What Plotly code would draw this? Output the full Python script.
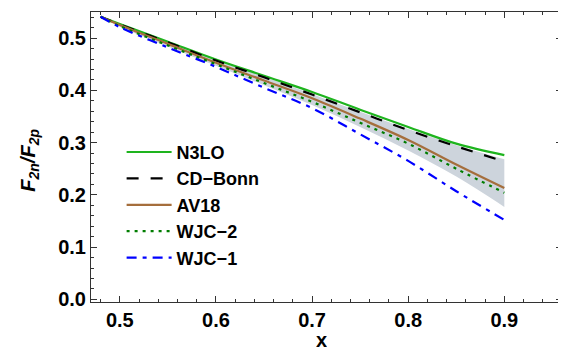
import plotly.graph_objects as go

x_vals = [0.48, 0.50, 0.55, 0.60, 0.65, 0.70, 0.75, 0.80, 0.85, 0.90]
n3lo = [0.541, 0.527, 0.493, 0.459, 0.428, 0.397, 0.363, 0.330, 0.298, 0.276]
cdbonn = [0.541, 0.526, 0.492, 0.457, 0.425, 0.392, 0.358, 0.324, 0.293, 0.264]
av18 = [0.541, 0.525, 0.489, 0.453, 0.419, 0.385, 0.346, 0.305, 0.258, 0.213]
wjc2 = [0.541, 0.523, 0.486, 0.450, 0.414, 0.378, 0.338, 0.298, 0.250, 0.204]
wjc1 = [0.541, 0.521, 0.482, 0.445, 0.405, 0.366, 0.316, 0.265, 0.207, 0.152]
band_upper = [0.541, 0.527, 0.492, 0.458, 0.426, 0.393, 0.359, 0.326, 0.295, 0.268]
band_lower = [0.541, 0.522, 0.484, 0.447, 0.410, 0.372, 0.330, 0.285, 0.235, 0.177]

FONT = "Liberation Sans"
FS = 20

fig = go.Figure()
fig.add_trace(go.Scatter(x=x_vals, y=band_lower, mode="lines", line=dict(width=0, shape="spline"),
                         showlegend=False, hoverinfo="skip"))
fig.add_trace(go.Scatter(x=x_vals, y=band_upper, mode="lines", line=dict(width=0, shape="spline"),
                         fill="tonexty", fillcolor="rgb(205,212,220)", showlegend=False, hoverinfo="skip"))

series = [
    ("N3LO", n3lo, "rgb(30,180,30)", "solid"),
    ("CD\u2212Bonn", cdbonn, "black", "12px,12px"),
    ("AV18", av18, "rgb(165,110,60)", "solid"),
    ("WJC\u22122", wjc2, "rgb(0,125,0)", "3px,5px"),
    ("WJC\u22121", wjc1, "rgb(0,0,255)", "10px,6px,4px,6px"),
]
for name, ys, col, dash in series:
    fig.add_trace(go.Scatter(x=x_vals, y=ys, mode="lines", name=name,
                             line=dict(color=col, width=2.2, dash=dash, shape="spline")))

axis_common = dict(
    showline=True, linecolor="#333", linewidth=1, mirror="allticks",
    ticks="inside", ticklen=6, tickcolor="#333", showgrid=False, zeroline=False,
    automargin=False,
    tickfont=dict(family=FONT, size=FS, color="black", weight="bold"),
)

fig.update_xaxes(range=[0.47, 0.96], tickvals=[0.5, 0.6, 0.7, 0.8, 0.9],
                 ticktext=["0.5", "0.6", "0.7", "0.8", "0.9"],
                 minor=dict(ticks="inside", ticklen=3, dtick=0.02, tick0=0.5, tickcolor="#333"),
                 **axis_common)
fig.update_yaxes(range=[-0.005, 0.55], tickvals=[0.0, 0.1, 0.2, 0.3, 0.4, 0.5],
                 ticktext=["0.0", "0.1", "0.2", "0.3", "0.4", "0.5"],
                 minor=dict(ticks="inside", ticklen=3, dtick=0.02, tick0=0, tickcolor="#333"),
                 **axis_common)

fig.add_annotation(text="<b>x</b>", xref="paper", yref="paper", x=0.49, y=-0.162,
                   xanchor="center", yanchor="bottom", showarrow=False, height=15,
                   font=dict(family=FONT, size=FS, color="black"))
fig.add_annotation(text="<b><i>F</i><sub><i>2n</i></sub><i>/F</i><sub><i>2p</i></sub></b>",
                   xref="paper", yref="paper", x=-0.13, y=0.49, textangle=-90,
                   xanchor="center", yanchor="middle", showarrow=False,
                   font=dict(family=FONT, size=FS, color="black"))

# page body has an 8px default margin, so the figure is 8px smaller and margins shifted
fig.update_layout(
    width=558, height=342,
    margin=dict(l=83, r=4, t=4, b=48),
    plot_bgcolor="white", paper_bgcolor="white",
    legend=dict(x=0.065, y=0.58, xanchor="left", yanchor="top", traceorder="normal",
                font=dict(family=FONT, size=18, color="black", weight="bold"),
                bgcolor="rgba(0,0,0,0)", tracegroupgap=0, itemwidth=45),
    showlegend=True,
)

fig.write_html("out.html")
